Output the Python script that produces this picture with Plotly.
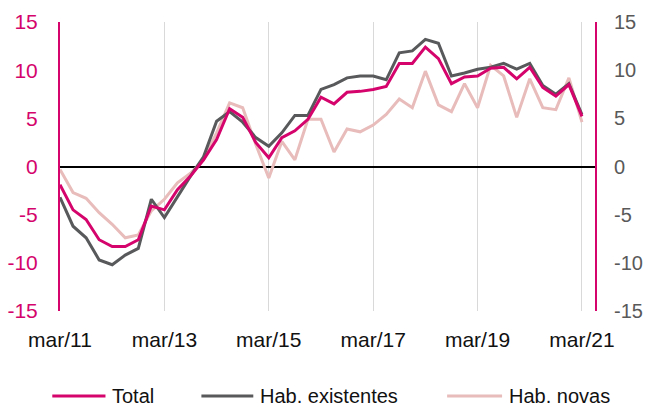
import plotly.graph_objects as go

quarters = list(range(41))
tick_idx = [0, 8, 16, 24, 32, 40]
tick_labels = ["mar/11", "mar/13", "mar/15", "mar/17", "mar/19", "mar/21"]
y_tick_vals = [-15, -10, -5, 0, 5, 10, 15]
y_tick_text = ["-15", "-10", "-5", "0", "5", "10", "15"]

total = [-1.9, -4.5, -5.5, -7.6, -8.3, -8.3, -7.6, -4.1, -4.5, -2.4,
         -1.0, 0.7, 2.8, 6.0, 5.1, 2.5, 0.9, 3.0, 3.7, 4.9,
         7.2, 6.5, 7.7, 7.8, 8.0, 8.3, 10.7, 10.7, 12.4, 11.2,
         8.6, 9.3, 9.4, 10.2, 10.3, 9.1, 10.3, 8.2, 7.3, 8.5,
         5.2]
existentes = [-3.2, -6.2, -7.4, -9.7, -10.2, -9.2, -8.5, -3.4, -5.3, -3.1,
              -1.0, 1.0, 4.7, 5.7, 4.6, 3.0, 2.1, 3.5, 5.3, 5.3,
              8.0, 8.5, 9.2, 9.4, 9.4, 9.0, 11.8, 12.0, 13.2, 12.8,
              9.4, 9.7, 10.1, 10.3, 10.7, 10.1, 10.7, 8.4, 7.5, 8.6,
              5.4]
novas = [-0.3, -2.7, -3.3, -4.8, -6.0, -7.4, -7.1, -4.6, -3.4, -1.7,
         -0.7, 0.7, 3.5, 6.6, 6.1, 2.3, -1.2, 2.6, 0.7, 4.9,
         4.9, 1.5, 3.9, 3.6, 4.3, 5.4, 7.0, 6.1, 9.9, 6.4,
         5.7, 8.6, 6.1, 10.5, 9.4, 5.1, 9.1, 6.1, 5.9, 9.2,
         4.6]

series_names = ["Total", "Hab. existentes", "Hab. novas"]

C_TOTAL = "#D4046C"
C_EXIST = "#58595B"
C_NOVAS = "#E8BCBA"
colors = [C_TOTAL, C_EXIST, C_NOVAS]
FONT = "Liberation Sans, Arial, sans-serif"

fig = go.Figure()
fig.add_trace(go.Scatter(x=quarters, y=novas, name=series_names[2], mode="lines",
                         line=dict(color=C_NOVAS, width=3), showlegend=False))
fig.add_trace(go.Scatter(x=quarters, y=existentes, name=series_names[1], mode="lines",
                         line=dict(color=C_EXIST, width=3), showlegend=False))
fig.add_trace(go.Scatter(x=quarters, y=total, name=series_names[0], mode="lines",
                         line=dict(color=C_TOTAL, width=3), showlegend=False))
# invisible trace to carry the right-hand axis
fig.add_trace(go.Scatter(x=quarters, y=total, yaxis="y2", mode="lines",
                         line=dict(color="rgba(0,0,0,0)", width=0),
                         showlegend=False, hoverinfo="skip"))

# custom legend (line sample + label), positions in paper coordinates
legend_line_x = [(-0.0144, 0.0850), (0.2643, 0.3613), (0.7236, 0.8263)]
legend_text_x = [0.0962, 0.3725, 0.8366]
legend_y = -0.294
for name, col, (x0, x1), tx in zip(series_names, colors, legend_line_x, legend_text_x):
    fig.add_shape(type="line", xref="paper", yref="paper", x0=x0, x1=x1,
                  y0=legend_y, y1=legend_y, line=dict(color=col, width=3))
    fig.add_annotation(xref="paper", yref="paper", x=tx, y=legend_y, text=name,
                       showarrow=False, xanchor="left", yanchor="middle",
                       font=dict(size=20, color="#111111"), borderpad=0)

fig.update_layout(
    width=646, height=406,
    margin=dict(l=59.5, r=51, t=22, b=95, autoexpand=False),
    paper_bgcolor="white", plot_bgcolor="white",
    font=dict(family=FONT, size=21, color="#111111"),
    xaxis=dict(range=[0, 41], tickmode="array", tickvals=tick_idx, ticktext=tick_labels,
               showgrid=True, gridcolor="#D9D9D9", gridwidth=1,
               showline=False, zeroline=False, ticks="", automargin=False,
               ticklabelstandoff=14,
               tickfont=dict(size=21, color="#111111")),
    yaxis=dict(range=[-15, 15], tickmode="array", tickvals=y_tick_vals, ticktext=y_tick_text,
               showgrid=False, zeroline=True, zerolinecolor="#000000", zerolinewidth=1.5,
               showline=True, linecolor=C_TOTAL, linewidth=2, automargin=False,
               ticks="", ticklabelstandoff=16,
               tickfont=dict(size=21, color=C_TOTAL)),
    yaxis2=dict(range=[-15, 15], tickmode="array", tickvals=y_tick_vals, ticktext=y_tick_text,
                overlaying="y", side="right", anchor="x",
                showgrid=False, zeroline=False, automargin=False,
                showline=True, linecolor=C_TOTAL, linewidth=2,
                ticks="", ticklabelstandoff=13,
                tickfont=dict(size=20, color="#595959")),
    showlegend=False,
)

fig.write_html("out.html")
